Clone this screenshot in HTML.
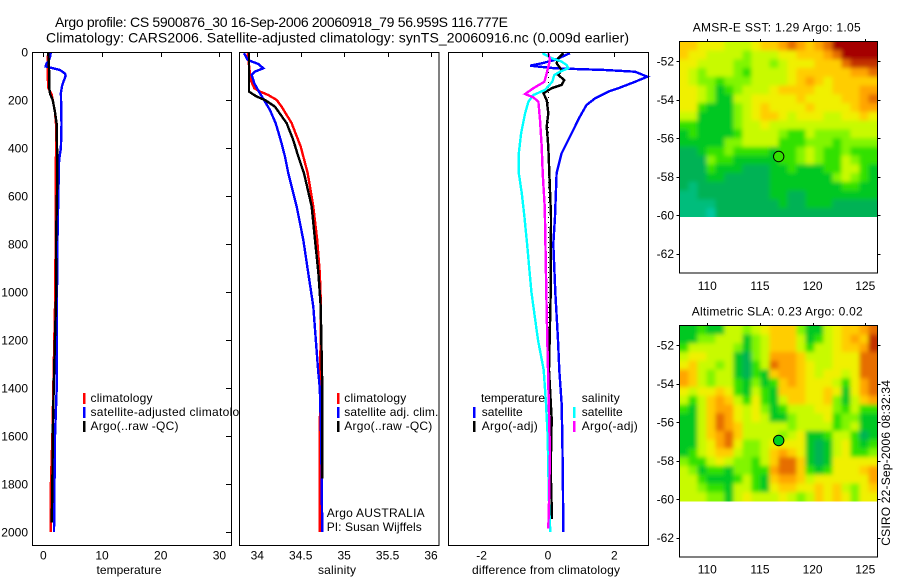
<!DOCTYPE html>
<html lang="en">
<head>
<meta charset="utf-8">
<title>Argo profile chart</title>
<style>
html,body{margin:0;padding:0;background:#fff;}
svg{display:block;}
text{font-family:"Liberation Sans",sans-serif;font-size:12px;fill:#000;}
.ttl{font-size:14px;}
</style>
</head>
<body>
<svg id="chart" width="900" height="580" viewBox="0 0 900 580" xmlns="http://www.w3.org/2000/svg">
<defs>
<clipPath id="clip-sst"><rect x="680" y="42" width="197" height="175"/></clipPath>
<clipPath id="clip-sla"><rect x="680" y="326" width="197" height="175.5"/></clipPath>
<clipPath id="clip-legend1"><rect x="32" y="52" width="207" height="493"/></clipPath>
<filter id="soft" x="-10%" y="-10%" width="120%" height="120%"><feGaussianBlur stdDeviation="2.2"/></filter>
</defs>
<text class="ttl" x="55" y="27" textLength="453" lengthAdjust="spacing">Argo profile: CS 5900876_30 16-Sep-2006 20060918_79 56.959S 116.777E</text>
<text class="ttl" x="46" y="42.5" textLength="583" lengthAdjust="spacing">Climatology: CARS2006. Satellite-adjusted climatology: synTS_20060916.nc (0.009d earlier)</text>

<g id="panel-temp">
<g id="marks-temp"></g>
<g id="ticks-temp"></g>
<rect x="32.5" y="52.5" width="199" height="493" fill="none" stroke="#000" shape-rendering="crispEdges"/>
<g clip-path="url(#clip-legend1)">
<rect x="83" y="393" width="2.5" height="11" fill="#f00"/>
<text x="90.5" y="402" textLength="62" lengthAdjust="spacing">climatology</text>
<rect x="83" y="407" width="2.5" height="11" fill="#00f"/>
<text x="90.5" y="416" textLength="162" lengthAdjust="spacing">satellite-adjusted climatology</text>
<rect x="83" y="421" width="2.5" height="11" fill="#000"/>
<text x="90.5" y="430" textLength="88" lengthAdjust="spacing">Argo(..raw -QC)</text>
</g>
<text x="129" y="574" text-anchor="middle" textLength="65" lengthAdjust="spacing">temperature</text>
</g>

<g id="panel-sal">
<g id="marks-sal"></g>
<g id="ticks-sal"></g>
<rect x="239.5" y="52.5" width="199.5" height="493" fill="none" stroke="#000" shape-rendering="crispEdges"/>
<g>
<rect x="337" y="393" width="2.5" height="11" fill="#f00"/>
<text x="344.3" y="402" textLength="62" lengthAdjust="spacing">climatology</text>
<rect x="337" y="407" width="2.5" height="11" fill="#00f"/>
<text x="344.3" y="416" textLength="94" lengthAdjust="spacing">satellite adj. clim.</text>
<rect x="337" y="421" width="2.5" height="11" fill="#000"/>
<text x="344.3" y="430" textLength="88" lengthAdjust="spacing">Argo(..raw -QC)</text>
</g>
<text x="326.7" y="517" textLength="98" lengthAdjust="spacing">Argo AUSTRALIA</text>
<text x="326.7" y="531" textLength="95" lengthAdjust="spacing">PI: Susan Wijffels</text>
<text x="337" y="574" text-anchor="middle" textLength="38" lengthAdjust="spacing">salinity</text>
</g>

<g id="panel-diff">
<g id="marks-diff"></g>
<g id="ticks-diff"></g>
<rect x="448.5" y="52.5" width="200" height="493" fill="none" stroke="#000" shape-rendering="crispEdges"/>
<g>
<text x="481" y="402" textLength="64" lengthAdjust="spacing">temperature</text>
<rect x="473" y="407" width="2.5" height="11" fill="#00f"/>
<text x="481.7" y="416" textLength="41" lengthAdjust="spacing">satellite</text>
<rect x="473" y="421" width="2.5" height="11" fill="#000"/>
<text x="481.7" y="430" textLength="56" lengthAdjust="spacing">Argo(-adj)</text>
<text x="581.7" y="402" textLength="38" lengthAdjust="spacing">salinity</text>
<rect x="573" y="407" width="2.5" height="11" fill="#0ff"/>
<text x="581.7" y="416" textLength="41" lengthAdjust="spacing">satellite</text>
<rect x="573" y="421" width="2.5" height="11" fill="#f0f"/>
<text x="581.7" y="430" textLength="56" lengthAdjust="spacing">Argo(-adj)</text>
</g>
<text x="546" y="574" text-anchor="middle" textLength="148" lengthAdjust="spacing">difference from climatology</text>
</g>

<g id="map-sst">
<text x="692.7" y="31.7" textLength="168" lengthAdjust="spacing">AMSR-E SST: 1.29 Argo: 1.05</text>
<g clip-path="url(#clip-sst)"><g id="cells-sst" filter="url(#soft)"></g></g>
<g id="ticks-sst"></g>
<rect x="679.5" y="41.5" width="198" height="231.5" fill="none" stroke="#000" shape-rendering="crispEdges"/>
<circle id="marker-sst" r="5.2" fill="#32e100" stroke="#000" stroke-width="1"/>
</g>

<g id="map-sla">
<text x="691.7" y="315.7" textLength="171" lengthAdjust="spacing">Altimetric SLA: 0.23 Argo: 0.02</text>
<g clip-path="url(#clip-sla)"><g id="cells-sla" filter="url(#soft)"></g></g>
<g id="ticks-sla"></g>
<rect x="679.5" y="325.5" width="198" height="231.5" fill="none" stroke="#000" shape-rendering="crispEdges"/>
<circle id="marker-sla" r="5.2" fill="#00d21e" stroke="#000" stroke-width="1"/>
</g>
<text transform="translate(890,545.7) rotate(-90)" x="0" y="0" textLength="165.6" lengthAdjust="spacing">CSIRO 22-Sep-2006 08:32:34</text>
</svg>

<script>
// ---- profile data ----
const depthTicks = [0,200,400,600,800,1000,1200,1400,1600,1800,2000];
const tempTicks = [0,10,20,30];
const salTicks = [34,34.5,35,35.5,36];
const salTickLabels = ['34','34.5','35','35.5','36'];
const diffTicks = [-2,0,2];
const diffTickLabels = ['-2','0','2'];

const tempClimDepth = [0,100,150,175,200,250,300,400,1000,1400,1600,1800,2000];
const tempClimValues = [0.8,0.75,0.85,1.4,1.6,2.0,2.16,2.16,2.05,1.7,1.55,1.3,1.25];
const tempSatDepth = [0,20,40,50,60,70,75,90,100,120,140,170,300,400,450,600,800,1000,1400,1600,1800,2000];
const tempSatValues = [1.3,1.15,0.85,0.5,0.4,2.0,2.85,3.7,3.8,3.5,3.2,3.0,3.1,3.0,2.7,2.55,2.4,2.33,2.28,2.0,1.9,1.82];
const tempArgoDepth = [0,100,150,175,200,250,300,500,800,1000,1400,1600,1800,1960];
const tempArgoValues = [0.85,1.03,1.03,1.15,1.6,2.0,2.28,2.4,2.16,2.2,1.78,1.6,1.55,1.43];

const salClimDepth = [5,33,117,151,165,179,200,228,297,394,505,644,783,922,1061,1400,2000];
const salClimValues = [33.889,33.897,33.924,33.965,34.031,34.127,34.223,34.281,34.396,34.5,34.58,34.645,34.69,34.72,34.733,34.722,34.72];
const salSatDepth = [5,33,50,68,82,96,130,172,207,242,297,367,436,505,644,783,922,1061,1325,1400,1600,2000];
const salSatValues = [33.847,33.889,34.012,34.069,33.97,33.935,33.965,34.03,34.089,34.146,34.212,34.27,34.319,34.357,34.454,34.53,34.587,34.645,34.70,34.72,34.735,34.748];
const salArgoDepth = [5,165,186,200,228,297,367,436,505,644,783,922,1061,1400,1777];
const salArgoValues = [33.904,33.904,33.993,34.089,34.204,34.338,34.415,34.472,34.538,34.626,34.664,34.703,34.73,34.748,34.748];

const dtSatDepth = [5,33,47,57,68,75,82,103,124,151,165,193,221,269,353,422,505,686,800,1000,1200,1325,1464,1600,1800,2000];
const dtSatValues = [0.66,0.21,-0.19,-0.54,0.21,1.72,2.62,2.99,2.62,2.12,1.82,1.42,1.16,0.96,0.66,0.41,0.26,0.21,0.16,0.22,0.3,0.34,0.41,0.43,0.45,0.46];
const dtArgoDepth = [5,26,47,75,96,117,137,151,172,200,255,311,394,686,1000,1325,1530,1740,1945];
const dtArgoValues = [0.46,0.31,0.26,0.41,0.31,0.49,0.41,0.11,-0.14,-0.04,0.01,-0.04,0.01,0.09,0.08,0.03,0.11,0.08,0.12];
const dsSatDepth = [5,26,40,54,68,82,96,124,158,179,207,255,339,422,505,589,686,800,1000,1200,1325,1464,1600,1740,1880,2000];
const dsSatValues = [-0.17,0.11,0.41,0.56,0.61,0.36,0.19,0.13,-0.09,-0.44,-0.59,-0.69,-0.81,-0.88,-0.88,-0.79,-0.71,-0.63,-0.5,-0.3,-0.13,-0.06,-0.01,0.01,0.03,0.07];
const dsArgoDepth = [5,33,89,124,151,175,189,207,283,394,505,644,700,1000,1200,1325,1560,1670,1875,1985];
const dsArgoValues = [0.01,0.06,-0.04,-0.11,-0.44,-0.69,-0.44,-0.29,-0.24,-0.19,-0.16,-0.1,-0.09,-0.05,-0.02,0,0.04,0.06,0.03,0.01];

// ---- map data: colour level per grid cell, north to south ----
const lonTicks = [110,115,120,125];
const latTicks = [-52,-54,-56,-58,-60,-62];
const floatLon = 116.777;
const floatLat = -56.959;
const sstGrid = [
[7,7,6,6,6,5,5,5,6,7,7,8,9,8,7,8,9,11,11,11,11,11],
[7,6,6,5,5,5,5,4,5,5,5,6,6,7,7,7,8,9,11,11,11,11],
[6,6,5,5,5,5,4,4,5,5,4,5,6,6,6,7,7,7,9,10,10,10],
[6,5,4,5,5,5,4,3,5,5,5,5,6,7,7,7,7,7,7,8,8,9],
[6,5,4,4,3,4,4,4,5,5,5,5,6,7,8,7,6,7,7,7,7,7],
[6,6,5,4,2,3,4,5,5,5,6,7,7,7,7,6,6,7,7,7,8,8],
[6,6,5,4,2,2,5,5,6,6,6,6,6,7,6,6,6,6,7,7,8,9],
[6,6,3,2,2,2,4,5,6,7,6,6,6,6,7,6,6,6,6,7,8,8],
[5,5,2,2,2,2,4,5,6,7,7,6,5,6,6,6,5,5,6,6,7,6],
[3,3,2,2,2,2,4,5,5,6,5,5,5,5,5,5,5,5,5,5,5,5],
[2,3,2,2,2,2,3,5,5,5,5,4,3,3,5,4,4,4,4,5,5,5],
[2,2,2,2,2,4,4,5,5,5,5,3,3,3,4,4,4,3,4,4,4,4],
[1,1,2,3,3,4,3,3,3,3,2,3,3,4,5,4,3,3,4,3,3,3],
[1,1,1,4,3,3,2,2,2,2,2,3,3,4,5,4,3,3,5,4,3,3],
[1,1,1,3,2,2,2,1,1,1,2,2,3,2,2,2,3,3,5,5,3,2],
[1,1,1,2,2,1,1,1,1,1,2,2,2,2,2,2,2,4,5,4,3,2],
[1,0.5,1,1,1,1,1,1,1,1,2,2,2,2,2,2,2,2,3,3,2,2],
[0.5,0.5,1,1,1,1,1,1,1,1,2,2,1,1,2,2,2,2,2,2,2,2],
[0.5,0.5,0.5,0.5,1,1,1,1,1,1,1,2,1,1,2,2,2,1,1,1,1,1],
[0.5,0.5,0.5,0,1,1,1,1,1,1,1,1,1,1,1,1,1,1,1,1,1,1]
];
const slaGrid = [
[2,2,3,2,2,5,5,4,5,6,7,7,7,4,2,2,5,6,7,7,8,9],
[2,2,4,4,5,5,5,2,4,5,7,7,7,5,2,3,5,6,7,8,7,10],
[3,5,5,5,5,5,4,2,4,5,7,7,7,5,3,5,5,6,7,7,8,10],
[5,6,6,5,5,5,2,1,4,5,8,8,8,7,5,5,5,6,6,6,9,9],
[6,7,5,5,4,5,2,1,3,5,9,8,8,7,6,5,5,6,6,6,9,9],
[8,7,5,4,5,5,2,1,3,2,7,8,8,7,6,5,6,6,5,6,9,9],
[8,7,5,4,5,5,3,2,4,2,3,7,8,7,6,6,6,5,3,6,8,9],
[6,5,6,6,7,6,3,2,5,3,2,7,7,7,6,6,7,6,2,6,8,9],
[5,3,5,7,8,7,5,3,6,3,2,5,7,7,6,6,7,4,2,5,7,8],
[3,2,5,7,8,8,6,5,6,4,2,3,5,5,5,6,6,4,3,5,3,3],
[2,2,5,7,9,8,6,5,6,5,2,2,4,5,5,5,6,3,4,4,2,2],
[2,2,5,7,9,8,7,5,5,5,5,5,4,5,5,5,5,3,4,5,2,2],
[2,2,5,7,8,9,7,5,5,5,5,4,5,6,2,2,3,5,5,3,1,2],
[2,2,5,6,8,9,6,4,4,5,6,6,6,6,2,1,2,5,6,3,2,3],
[2,3,5,6,7,7,5,4,4,5,7,8,7,6,2,1,2,5,6,3,3,4],
[4,3,3,5,6,5,4,4,3,5,7,9,9,7,2,1,2,6,6,6,6,6],
[5,4,2,3,3,2,4,4,3,3,8,9,9,7,3,2,3,6,6,6,7,8],
[5,5,3,2,2,2,3,5,3,2,7,8,8,7,5,6,6,6,6,6,6,8],
[5,5,4,3,3,2,5,5,3,2,6,7,7,6,6,7,6,7,5,4,6,7],
[5,5,5,4,4,2,5,6,5,5,5,6,5,4,5,7,6,7,6,4,6,6]
];

// ---- scales ----
const SVGNS = 'http://www.w3.org/2000/svg';
function yDepth(z){ return 52 + z * 0.24; }
function xTemp(t){ return 43.3 + t * 5.87; }
function xSal(s){ return 257.3 + (s - 34) * 86.85; }
function xDiff(d){ return 548 + d * 33.2; }
function xLon(lon){ return 707.3 + (lon - 110) * 10.53; }
function ySst(lat){ return 61 + (-52 - lat) * 19.25; }
function ySla(lat){ return 345 + (-52 - lat) * 19.25; }

function colourForLevel(v){
  const stops = [[0,200,160],[0,178,85],[0,200,35],[50,225,0],[130,245,0],[200,250,0],[240,240,0],[255,205,0],[255,165,0],[230,110,0],[195,50,0],[165,0,0]];
  const c = Math.max(0, Math.min(stops.length - 1, v));
  const i = Math.min(stops.length - 2, Math.floor(c));
  const f = c - i;
  const a = stops[i], b = stops[i + 1];
  return 'rgb(' + Math.round(a[0] + (b[0] - a[0]) * f) + ',' + Math.round(a[1] + (b[1] - a[1]) * f) + ',' + Math.round(a[2] + (b[2] - a[2]) * f) + ')';
}

function drawProfile(parentId, name, depths, values, xFn, colour){
  const el = document.createElementNS(SVGNS, 'polyline');
  
  
  el.setAttribute('points', depths.map(function(z, i){ return xFn(values[i]).toFixed(1) + ',' + yDepth(z).toFixed(1); }).join(' '));
  el.setAttribute('fill', 'none');
  el.setAttribute('stroke', colour);
  el.setAttribute('stroke-width', '2.4');
  el.setAttribute('shape-rendering', 'crispEdges');
  document.getElementById(parentId).appendChild(el);
}

function addLine(parentId, name, x1, y1, x2, y2){
  const el = document.createElementNS(SVGNS, 'line');
  
  
  el.setAttribute('x1', x1);
  el.setAttribute('y1', y1);
  el.setAttribute('x2', x2);
  el.setAttribute('y2', y2);
  el.setAttribute('stroke', '#000');
  el.setAttribute('shape-rendering', 'crispEdges');
  document.getElementById(parentId).appendChild(el);
}

function addText(parentId, name, x, y, anchor, label){
  const el = document.createElementNS(SVGNS, 'text');
  
  
  el.setAttribute('x', x);
  el.setAttribute('y', y);
  el.setAttribute('text-anchor', anchor);
  el.textContent = label;
  document.getElementById(parentId).appendChild(el);
}

function px(v){ return Math.round(v) + 0.5; }

// ---- temperature panel ----
drawProfile('marks-temp', 'temperature-climatology-line', tempClimDepth, tempClimValues, xTemp, '#f00');
drawProfile('marks-temp', 'temperature-satellite-line', tempSatDepth, tempSatValues, xTemp, '#00f');
drawProfile('marks-temp', 'temperature-argo-line', tempArgoDepth, tempArgoValues, xTemp, '#000');
tempTicks.forEach(function(t){
  addLine('ticks-temp', 'x-tick', px(xTemp(t)), 52, px(xTemp(t)), 57);
  addText('ticks-temp', 'x-tick-label', xTemp(t), 559.5, 'middle', String(t));
});
depthTicks.forEach(function(z){
  addLine('ticks-temp', 'y-tick', 226, px(yDepth(z)), 231, px(yDepth(z)));
  addText('ticks-temp', 'y-tick-label', 28, yDepth(z) + 4.5, 'end', String(z));
});

// ---- salinity panel ----
drawProfile('marks-sal', 'salinity-climatology-line', salClimDepth, salClimValues, xSal, '#f00');
drawProfile('marks-sal', 'salinity-satellite-line', salSatDepth, salSatValues, xSal, '#00f');
drawProfile('marks-sal', 'salinity-argo-line', salArgoDepth, salArgoValues, xSal, '#000');
salTicks.forEach(function(s, i){
  addLine('ticks-sal', 'x-tick', px(xSal(s)), 52, px(xSal(s)), 57);
  addText('ticks-sal', 'x-tick-label', xSal(s), 559.5, 'middle', salTickLabels[i]);
});

// ---- difference panel ----
addLine('marks-diff', 'zero-line', 548.5, 52, 548.5, 532);
document.querySelector('#marks-diff line').setAttribute('stroke-dasharray', '1 4');
drawProfile('marks-diff', 'temperature-satellite-difference-line', dtSatDepth, dtSatValues, xDiff, '#00f');
drawProfile('marks-diff', 'temperature-argo-difference-line', dtArgoDepth, dtArgoValues, xDiff, '#000');
drawProfile('marks-diff', 'salinity-satellite-difference-line', dsSatDepth, dsSatValues, xDiff, '#0ff');
drawProfile('marks-diff', 'salinity-argo-difference-line', dsArgoDepth, dsArgoValues, xDiff, '#f0f');
diffTicks.forEach(function(d, i){
  addLine('ticks-diff', 'x-tick', px(xDiff(d)), 52, px(xDiff(d)), 57);
  addText('ticks-diff', 'x-tick-label', xDiff(d), 559.5, 'middle', diffTickLabels[i]);
});

// ---- maps ----
function drawMap(key, grid, yFn, lonLabelY){
  const cellsId = 'cells-' + key;
  const ticksId = 'ticks-' + key;
  const lonWest = 107.35, lonEast = 126.15, latNorth = -51, latSouth = -60.1;
  const nRows = grid.length;
  grid.forEach(function(row, r){
    row.forEach(function(v, c){
      const nCols = row.length;
      let x0 = xLon(lonWest + (lonEast - lonWest) * c / nCols);
      let x1 = xLon(lonWest + (lonEast - lonWest) * (c + 1) / nCols);
      let y0 = yFn(latNorth + (latSouth - latNorth) * r / nRows);
      let y1 = yFn(latNorth + (latSouth - latNorth) * (r + 1) / nRows);
      if (c === 0) x0 -= 10;
      if (c === nCols - 1) x1 += 10;
      if (r === 0) y0 -= 10;
      if (r === nRows - 1) y1 += 10;
      const cell = document.createElementNS(SVGNS, 'rect');
      
      
      cell.setAttribute('x', x0.toFixed(1));
      cell.setAttribute('y', y0.toFixed(1));
      cell.setAttribute('width', (x1 - x0 + 0.5).toFixed(1));
      cell.setAttribute('height', (y1 - y0 + 0.5).toFixed(1));
      cell.setAttribute('fill', colourForLevel(v));
      document.getElementById(cellsId).appendChild(cell);
    });
  });
  lonTicks.forEach(function(lon){
    addLine(ticksId, 'longitude-tick', px(xLon(lon)), yFn(-51) - 3, px(xLon(lon)), yFn(-51));
    addText(ticksId, 'longitude-tick-label', xLon(lon), lonLabelY, 'middle', String(lon));
  });
  latTicks.forEach(function(lat){
    addLine(ticksId, 'latitude-tick-left', 676.5, px(yFn(lat)), 680, px(yFn(lat)));
    addLine(ticksId, 'latitude-tick-right', 877, px(yFn(lat)), 880.5, px(yFn(lat)));
    addText(ticksId, 'latitude-tick-label', 674, yFn(lat) + 4.5, 'end', String(lat));
  });
  const m = document.getElementById('marker-' + key);
  m.setAttribute('cx', xLon(floatLon).toFixed(1));
  m.setAttribute('cy', yFn(floatLat).toFixed(1));
}
drawMap('sst', sstGrid, ySst, 290);
drawMap('sla', slaGrid, ySla, 573.5);
</script>
</body>
</html>
